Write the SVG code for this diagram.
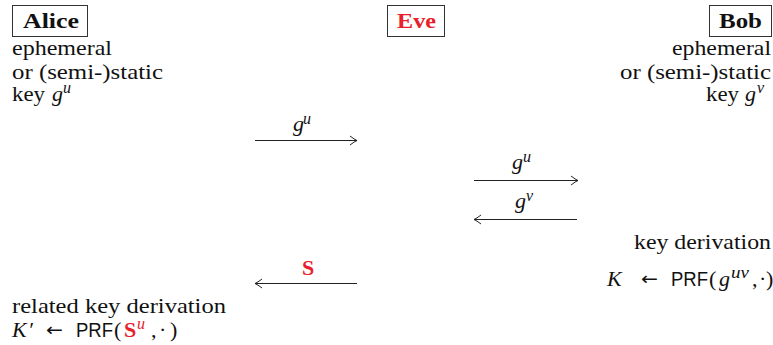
<svg xmlns="http://www.w3.org/2000/svg" width="773" height="345" viewBox="0 0 773 345">
<style>
text{font-family:"Liberation Serif","Times New Roman",serif;font-size:22px;fill:#111}
.b{font-weight:bold}
.i{font-style:italic}
.sup{font-style:italic;font-size:16px}
.red{fill:#e8202a}
.sf{font-family:"Liberation Sans",Arial,sans-serif;font-size:20px}
.ar{font-family:"DejaVu Sans",sans-serif;font-size:18px}
.box{fill:#fff;stroke:#333;stroke-width:1}
.conn line{stroke:#222;stroke-width:1}
</style>
<defs>
<marker id="ah" viewBox="-9 -6 11 12" refX="0" refY="0" markerWidth="11" markerHeight="12" markerUnits="userSpaceOnUse" orient="auto">
<path d="M-7,-4.5 Q-2.5,-1 0,0 Q-2.5,1 -7,4.5" fill="none" stroke="#222" stroke-width="1"/>
</marker>
</defs>
<rect width="773" height="345" fill="#fff"/>

<g id="alice">
<rect class="box" x="12.5" y="5.5" width="75" height="31"/>
<text class="b" x="23" y="28" textLength="56" lengthAdjust="spacingAndGlyphs">Alice</text>
<text x="12" y="55" textLength="100" lengthAdjust="spacingAndGlyphs">ephemeral</text>
<text x="12" y="79" textLength="151" lengthAdjust="spacingAndGlyphs">or (semi-)static</text>
<text x="12" y="101" textLength="33" lengthAdjust="spacingAndGlyphs">key</text>
<text class="i" x="52" y="101">g</text>
<text class="sup" x="63" y="93">u</text>
</g>

<g id="eve">
<rect class="box" x="387.5" y="5.5" width="57" height="31"/>
<text class="b red" x="397" y="28" textLength="39" lengthAdjust="spacingAndGlyphs">Eve</text>
</g>

<g id="bob">
<rect class="box" x="709.5" y="5.5" width="62" height="31"/>
<text class="b" x="719" y="28" textLength="43" lengthAdjust="spacingAndGlyphs">Bob</text>
<text x="672" y="55" textLength="99" lengthAdjust="spacingAndGlyphs">ephemeral</text>
<text x="620" y="79" textLength="151" lengthAdjust="spacingAndGlyphs">or (semi-)static</text>
<text x="706" y="101" textLength="33" lengthAdjust="spacingAndGlyphs">key</text>
<text class="i" x="745" y="101">g</text>
<text class="sup" x="757" y="93">v</text>
</g>

<g class="conn" id="connectors">
<line x1="255" y1="140.5" x2="357" y2="140.5" marker-end="url(#ah)"/>
<line x1="474" y1="180.5" x2="578" y2="180.5" marker-end="url(#ah)"/>
<line x1="577" y1="219.5" x2="474" y2="219.5" marker-end="url(#ah)"/>
<line x1="357" y1="283.5" x2="255" y2="283.5" marker-end="url(#ah)"/>
</g>

<g id="labels">
<text class="i" x="293" y="131">g</text>
<text class="sup" x="303" y="124">u</text>
<text class="i" x="512" y="169">g</text>
<text class="sup" x="523" y="162">u</text>
<text class="i" x="515" y="208">g</text>
<text class="sup" x="526" y="201">v</text>
<text class="b red" x="302" y="275">S</text>
</g>

<g id="bob-derivation">
<text x="634" y="249" textLength="137" lengthAdjust="spacingAndGlyphs">key derivation</text>
<text class="i" x="607" y="286">K</text>
<text class="ar" x="641" y="285" textLength="17" lengthAdjust="spacingAndGlyphs">←</text>
<text class="sf" x="671" y="286" textLength="37" lengthAdjust="spacingAndGlyphs">PRF</text>
<text x="709" y="286">(</text>
<text class="i" x="719" y="286">g</text>
<text class="sup" x="731" y="278" textLength="18" lengthAdjust="spacingAndGlyphs">uv</text>
<text x="752" y="286">,</text>
<text x="759" y="286">·</text>
<text x="766" y="286">)</text>
</g>

<g id="alice-derivation">
<text x="12" y="313" textLength="214" lengthAdjust="spacingAndGlyphs">related key derivation</text>
<text class="i" x="12" y="337">K</text>
<text class="i" x="28" y="337">′</text>
<text class="ar" x="46" y="336" textLength="17" lengthAdjust="spacingAndGlyphs">←</text>
<text class="sf" x="76" y="337" textLength="37" lengthAdjust="spacingAndGlyphs">PRF</text>
<text x="114" y="337">(</text>
<text class="b red" x="124" y="337">S</text>
<text class="sup red" x="137" y="329">u</text>
<text x="151" y="337">,</text>
<text x="159" y="337">·</text>
<text x="170" y="337">)</text>
</g>
</svg>
